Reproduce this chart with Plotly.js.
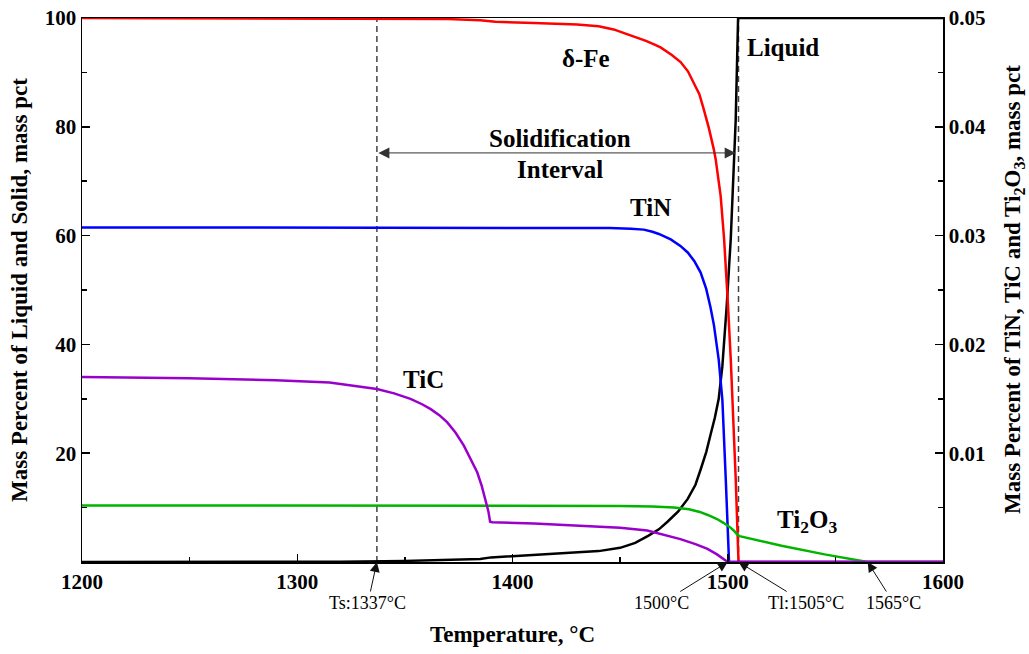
<!DOCTYPE html>
<html>
<head>
<meta charset="utf-8">
<script src="https://cdn.plot.ly/plotly-3.0.1.min.js"></script>
<style>html,body{margin:0;padding:0;background:#fff;}#chart{width:1029px;height:654px;}</style>
</head>
<body>
<div id="chart"></div>
<script>
// ---- data (temperature in °C) ----
const Ts = 1337;   // solidus
const Tl = 1505;   // liquidus
const T500 = 1500; // TiN / TiC dissolution
const T565 = 1565; // Ti2O3 dissolution

// Liquid (left axis, mass pct)
const tLiquid = [1200,1320,1350,1375,1385,1390,1400,1420,1440,1450,1457,1463,1468,1472,1477,1481.4,1485,1487.4,1490,1492,1494,1495.8,1497.5,1499.5,1501.4,1503.7,1504.8,1600];
const liquid  = [0,0.05,0.2,0.4,0.55,0.85,1.1,1.5,2.0,2.6,3.5,4.8,6.0,7.4,9.3,11.6,14.2,17,20.2,23.4,26.5,30,36,47,59.4,81.3,100,100];

// delta-Fe (left axis, mass pct)
const tFe = [1200,1300,1370,1385,1392,1410,1430,1440,1447,1453.5,1458,1462,1465.5,1468.8,1474,1478.1,1481.5,1484.2,1486.8,1488.8,1491.2,1493.5,1494.4,1496.7,1498.3,1500,1501.4,1503.7,1505,1600];
const deltaFe = [100,99.95,99.8,99.6,99.3,99.1,98.8,98.5,97.9,97.0,96.4,95.8,95.2,94.6,93.2,91.9,90.2,88.2,86.0,83.3,79.8,75.9,74.0,67.3,59.4,48,37.3,15.3,0,0];

// TiN (right axis, mass pct)
const tTiN = [1200,1420,1445,1455,1461,1465,1468,1473.5,1478,1481.4,1484.5,1487.4,1490,1492,1493.6,1495.8,1497.5,1499.1,1500.6,1600];
const TiN  = [0.03075,0.03075,0.0307,0.03063,0.03055,0.03035,0.03015,0.02965,0.02905,0.02845,0.02765,0.0266,0.0251,0.0234,0.02175,0.0186,0.0149,0.0075,0,0];

// TiC (right axis, mass pct)
const tTiC = [1200,1250,1290,1315,1337,1345,1352.6,1358,1362,1366,1369.6,1373.5,1377.4,1380.5,1383.6,1385.7,1387.4,1388.8,1389.6,1390.6,1410,1431.6,1450,1462.6,1470,1478,1485,1490.6,1495,1500,1600];
const TiC  = [0.0170,0.0169,0.0167,0.0165,0.0159,0.0155,0.0150,0.0145,0.01405,0.0135,0.01285,0.0119,0.0107,0.0095,0.00825,0.0070,0.0058,0.00465,0.0037,0.00365,0.00355,0.00335,0.00315,0.0029,0.00255,0.0021,0.00165,0.0012,0.0007,0,0];

// Ti2O3 (right axis, mass pct)
const tTi2O3 = [1200,1300,1400,1450,1465,1475,1482,1487,1491,1495,1498,1501,1503,1504.5,1505.5,1525,1545,1565,1600];
const Ti2O3  = [0.0052,0.0052,0.005175,0.00515,0.0051,0.0050,0.00485,0.0046,0.0043,0.00395,0.0036,0.0032,0.00285,0.0025,0.00238,0.0015,0.0007,0,0];

const xTicks = [1200,1300,1400,1500,1600];
const yTicks = [0,20,40,60,80,100];
const y2Ticks = [0,0.01,0.02,0.03,0.04,0.05];

// ---- styling ----
const FONT = 'Liberation Serif, Times New Roman, serif';
const LW = 2.5;
const ln = c => ({color:c, width:LW, shape:'linear'});

const traces = [
  {x:tLiquid, y:liquid, mode:'lines', line:ln('#000000'), name:'Liquid', yaxis:'y'},
  {x:tFe, y:deltaFe, mode:'lines', line:ln('#ff0000'), name:'δ-Fe', yaxis:'y'},
  {x:tTiN, y:TiN, mode:'lines', line:ln('#0000ff'), name:'TiN', yaxis:'y2'},
  {x:tTi2O3, y:Ti2O3, mode:'lines', line:ln('#00b400'), name:'Ti2O3', yaxis:'y2'},
  {x:tTiC, y:TiC, mode:'lines', line:ln('#9900cc'), name:'TiC', yaxis:'y2'}
];

const tickFont = {family:FONT, size:21, color:'#000', weight:'bold'};
const bold = v => '<b>' + v + '</b>';

const L = 82, R = 86, Tm = 18, B = 92, W = 1029, H = 654;
const pw = W - L - R, ph = H - Tm - B;
const px2paperX = p => (p - L) / pw;
const px2paperY = p => (H - B - p) / ph;

const curveLabel = (text, x, y) => ({
  text: '<b>' + text + '</b>', x: x, y: y, xref:'x', yref:'y', showarrow:false,
  font:{family:FONT, size:25, color:'#000'}
});
const tempLabel = (text, x, ax) => ({
  text: text, x: x, y: 0, xref:'x', yref:'y', showarrow:true, ax: ax, ay: 41,
  arrowhead:2, arrowsize:2, arrowwidth:1, arrowcolor:'#111',
  font:{family:FONT, size:18, color:'#000'}
});

const annotations = [
  curveLabel('δ-Fe', 1434, 92.6),
  curveLabel('Liquid', 1525.5, 94.5),
  curveLabel('Solidification', 1422, 77.9),
  curveLabel('Interval', 1422, 72.1),
  curveLabel('TiN', 1464, 65.2),
  curveLabel('TiC', 1358.5, 33.6),
  curveLabel('Ti<sub>2</sub>O<sub>3</sub>', 1536.7, 7.4),
  // double-headed arrow of the solidification interval
  {text:'', x:Tl - 1.3, y:75.2, ax:Ts, ay:75.2, xref:'x', yref:'y', axref:'x', ayref:'y',
   showarrow:true, arrowside:'end+start', arrowhead:2, arrowsize:2.2, arrowwidth:1, arrowcolor:'#333'},
  tempLabel('Ts:1337°C', Ts, -9),
  tempLabel('1500°C', T500, -66),
  tempLabel('Tl:1505°C', Tl, 67),
  tempLabel('1565°C', T565, 26),
  // axis titles
  {text:'<b>Mass Percent of Liquid and Solid, mass pct</b>', xref:'paper', yref:'paper',
   x:px2paperX(19), y:0.5, textangle:-90, showarrow:false, xanchor:'center', yanchor:'middle',
   font:{family:FONT, size:23, color:'#000'}},
  {text:'<b>Mass Percent of TiN, TiC and Ti<sub>2</sub>O<sub>3</sub>, mass pct</b>', xref:'paper', yref:'paper',
   x:px2paperX(1014), y:0.5, textangle:-90, showarrow:false, xanchor:'center', yanchor:'middle',
   font:{family:FONT, size:23, color:'#000'}},
  {text:'<b>Temperature, °C</b>', xref:'paper', yref:'paper',
   x:px2paperX(512), y:px2paperY(634), showarrow:false, xanchor:'center', yanchor:'middle',
   font:{family:FONT, size:23, color:'#000'}}
];

const dashLine = t => ({type:'line', xref:'x', yref:'y', x0:t, x1:t, y0:0, y1:100,
  line:{color:'#444', width:1.5, dash:'6px,4px'}, layer:'below'});

const layout = {
  width: W, height: H,
  margin: {l:L, r:R, t:Tm, b:B, pad:0},
  paper_bgcolor:'#fff', plot_bgcolor:'#fff',
  showlegend:false,
  font:{family:FONT, color:'#000'},
  xaxis:{
    range:[1200,1600], showgrid:false, zeroline:false,
    showline:true, linecolor:'#000', linewidth:1.5, mirror:true,
    ticks:'inside', ticklen:8, tickwidth:1.5, tickcolor:'#000',
    tickmode:'array', tickvals:xTicks, ticktext:xTicks.map(bold), tickfont:tickFont,
    minor:{tickvals:[1250,1350,1450,1550], ticks:'inside', ticklen:5, tickwidth:1.5, tickcolor:'#000', showgrid:false},
    fixedrange:true
  },
  yaxis:{
    range:[0,100], showgrid:false, zeroline:false,
    showline:true, linecolor:'#000', linewidth:1.5, mirror:false,
    ticks:'inside', ticklen:8, tickwidth:1.5, tickcolor:'#000',
    tickmode:'array', tickvals:yTicks, ticktext:yTicks.map(v => v === 0 ? '' : bold(v)), tickfont:tickFont,
    minor:{tickvals:[10,30,50,70,90], ticks:'inside', ticklen:5, tickwidth:1.5, tickcolor:'#000', showgrid:false},
    fixedrange:true
  },
  yaxis2:{
    range:[0,0.05], overlaying:'y', side:'right', anchor:'x', showgrid:false, zeroline:false,
    showline:true, linecolor:'#000', linewidth:1.5,
    ticks:'inside', ticklen:8, tickwidth:1.5, tickcolor:'#000',
    tickmode:'array', tickvals:y2Ticks, ticktext:y2Ticks.map(v => v === 0 ? '' : bold(v.toFixed(2))), tickfont:tickFont,
    minor:{tickvals:[0.005,0.015,0.025,0.035,0.045], ticks:'inside', ticklen:5, tickwidth:1.5, tickcolor:'#000', showgrid:false},
    fixedrange:true
  },
  shapes:[dashLine(Ts), dashLine(Tl)],
  annotations: annotations
};

Plotly.newPlot('chart', traces, layout, {displayModeBar:false, staticPlot:true});
</script>
</body>
</html>
